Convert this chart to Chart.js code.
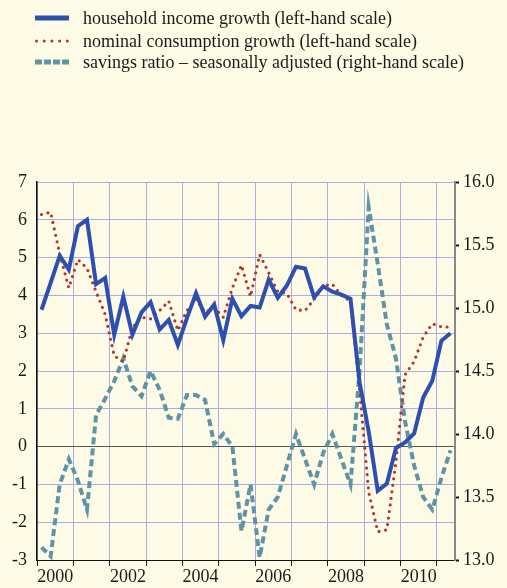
<!DOCTYPE html>
<html>
<head>
<meta charset="utf-8">
<script src="https://cdn.jsdelivr.net/npm/chart.js@4.4.1/dist/chart.umd.min.js"></script>
<style>
  html, body { margin: 0; padding: 0; background: #fdfbe6; }
  #wrap { position: relative; width: 507px; height: 588px; overflow: hidden; }
  #chart { position: absolute; left: 0; top: 0; }
  #legend { position: absolute; left: 0; top: 0; font-family: "Liberation Serif", "Times New Roman", serif; font-size: 18px; color: #1a1a1a; }
  .row { position: absolute; left: 35px; height: 20px; display: flex; align-items: center; white-space: nowrap; }
  .row svg { margin-right: 14px; flex: none; }
</style>
</head>
<body>
<div id="wrap">
  <canvas id="chart" width="507" height="588"></canvas>
  <div id="legend">
    <div class="row" style="top:8px">
      <svg width="34" height="6"><line x1="0" y1="3" x2="34" y2="3" stroke="#2d4fae" stroke-width="5"/></svg>
      <span>household income growth (left-hand scale)</span>
    </div>
    <div class="row" style="top:31px">
      <svg width="34" height="6"><line x1="1.5" y1="3" x2="34" y2="3" stroke="#b5352b" stroke-width="3" stroke-linecap="round" stroke-dasharray="0 7.7"/></svg>
      <span>nominal consumption growth (left-hand scale)</span>
    </div>
    <div class="row" style="top:52px">
      <svg width="34" height="6"><line x1="0" y1="3" x2="34" y2="3" stroke="#5f94a6" stroke-width="5" stroke-dasharray="7 2"/></svg>
      <span>savings ratio – seasonally adjusted (right-hand scale)</span>
    </div>
  </div>
</div>
<script>
// quarterly data, 2000 Q1 - 2011 Q2
const quarters = [
  "2000 Q1", "2000 Q2", "2000 Q3", "2000 Q4", "2001 Q1", "2001 Q2", "2001 Q3", "2001 Q4",
  "2002 Q1", "2002 Q2", "2002 Q3", "2002 Q4", "2003 Q1", "2003 Q2", "2003 Q3", "2003 Q4",
  "2004 Q1", "2004 Q2", "2004 Q3", "2004 Q4", "2005 Q1", "2005 Q2", "2005 Q3", "2005 Q4",
  "2006 Q1", "2006 Q2", "2006 Q3", "2006 Q4", "2007 Q1", "2007 Q2", "2007 Q3", "2007 Q4",
  "2008 Q1", "2008 Q2", "2008 Q3", "2008 Q4", "2009 Q1", "2009 Q2", "2009 Q3", "2009 Q4",
  "2010 Q1", "2010 Q2", "2010 Q3", "2010 Q4", "2011 Q1", "2011 Q2"
];

const incomeGrowth = [
  3.62, 4.33, 5.05, 4.68, 5.83, 6.0, 4.3, 4.46, 2.96, 3.97,
  2.96, 3.55, 3.82, 3.1, 3.35, 2.69, 3.4, 4.06, 3.44, 3.76,
  2.82, 3.91, 3.45, 3.72, 3.68, 4.42, 3.94, 4.26, 4.76, 4.71,
  3.95, 4.24, 4.1, 4.02, 3.91, 1.7, 0.4, -1.17, -0.98, -0.04,
  0.11, 0.35, 1.3, 1.74, 2.8, 3.0
];

const consumptionGrowth = [
  6.14, 6.2, 5.1, 4.2, 4.95, 4.72, 4.1, 3.5, 2.4, 2.25,
  3.15, 3.42, 3.38, 3.6, 3.85, 3.07, 3.6, 3.9, 3.55, 3.67,
  3.42, 4.2, 4.8, 3.97, 5.08, 4.6, 4.1, 4.05, 3.62, 3.6,
  3.9, 4.25, 4.3, 4.0, 3.85, 1.5, -1.2, -2.25, -2.2, -0.4,
  1.9, 2.25, 2.9, 3.25, 3.17, 3.16
];

const savingsRatio = [
  13.1, 13.03, 13.6, 13.8, 13.63, 13.4, 14.15, 14.28, 14.42, 14.6,
  14.38, 14.3, 14.5, 14.35, 14.13, 14.12, 14.31, 14.31, 14.27, 13.92,
  14.0, 13.9, 13.23, 13.6, 13.02, 13.4, 13.5, 13.75, 14.0, 13.8,
  13.6, 13.85, 14.0, 13.8, 13.6, 14.5, 15.8, 15.35, 14.87, 14.6,
  14.1, 13.75, 13.5, 13.4, 13.65, 13.87
];

const gridColor = "#aaaee4";
const ink = "#1a1a1a";

Chart.defaults.font.family = '"Liberation Serif", "Times New Roman", serif';
Chart.defaults.font.size = 18;
Chart.defaults.color = ink;

new Chart("chart", {
  type: "line",
  data: {
    labels: quarters,
    datasets: [{
      data: incomeGrowth,
      yAxisID: "y",
      borderColor: "#2d4fae",
      borderWidth: 4,
      pointRadius: 0,
      tension: 0
    }, {
      data: consumptionGrowth,
      yAxisID: "y",
      borderColor: "#b5352b",
      borderWidth: 3.2,
      borderDash: [0, 6.6],
      borderCapStyle: "round",
      pointRadius: 0,
      tension: 0
    }, {
      data: savingsRatio,
      yAxisID: "y1",
      borderColor: "#5f94a6",
      borderWidth: 4,
      borderDash: [7, 4],
      pointRadius: 0,
      tension: 0
    }]
  },
  options: {
    responsive: false,
    animation: false,
    devicePixelRatio: 1,
    layout: { padding: { top: 182, left: 0, right: 0, bottom: 0 } },
    plugins: {
      legend: { display: false },
      tooltip: { enabled: false }
    },
    scales: {
      x: {
        type: "category",
        offset: true,
        afterFit: (s) => { s.height = 28; },
        grid: {
          offset: true,
          color: (c) => c.index % 4 === 0 ? gridColor : "rgba(0,0,0,0)",
          tickColor: (c) => c.index % 4 === 0 ? "#111" : "rgba(0,0,0,0)",
          tickLength: 6
        },
        border: { color: "#111", width: 1 },
        ticks: {
          autoSkip: false,
          maxRotation: 0,
          minRotation: 0,
          padding: 0,
          labelOffset: 4.55,
          callback: (v, i) => i % 8 === 1 ? quarters[i].slice(0, 4) : ""
        }
      },
      y: {
        position: "left",
        min: -3,
        max: 7,
        afterFit: (s) => { s.width = 37; },
        grid: {
          color: (c) => c.tick && c.tick.value === 0 ? "#555" : gridColor,
          drawTicks: false
        },
        border: { color: "#111", width: 1.5 },
        ticks: { stepSize: 1, padding: 10 }
      },
      y1: {
        position: "right",
        min: 13,
        max: 16,
        afterFit: (s) => { s.width = 52; },
        grid: {
          drawOnChartArea: false,
          tickLength: 4,
          tickWidth: 2,
          tickColor: "#111"
        },
        border: { color: "#888", width: 2 },
        ticks: {
          stepSize: 0.5,
          padding: 4,
          callback: (v) => v.toFixed(1)
        }
      }
    }
  }
});
</script>
</body>
</html>
